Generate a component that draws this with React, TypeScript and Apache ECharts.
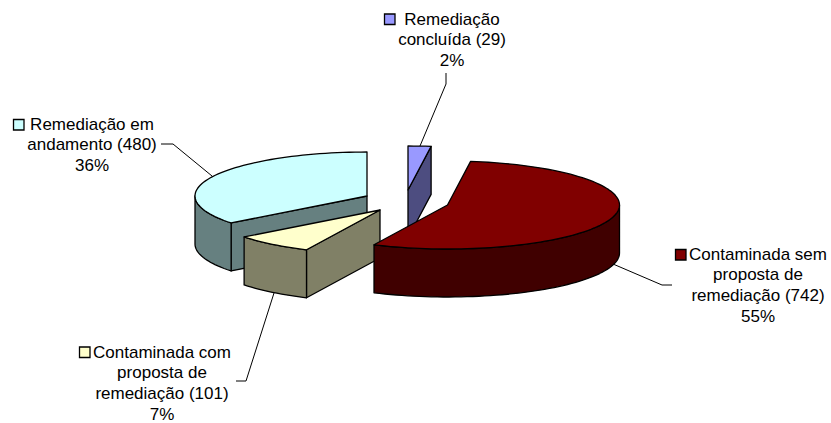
import React, { useEffect, useRef } from "react";
import * as echarts from "echarts";

// Slices in clockwise order, starting from twelve o'clock.
const categories = [
  "Remediação concluída",
  "Contaminada sem proposta de remediação",
  "Contaminada com proposta de remediação",
  "Remediação em andamento",
];
const values = [29, 742, 101, 480];
const labelLines = [
  ["Remediação", "concluída (29)", "2%"],
  ["Contaminada sem", "proposta de", "remediação (742)", "55%"],
  ["Contaminada com", "proposta de", "remediação (101)", "7%"],
  ["Remediação em", "andamento (480)", "36%"],
];
const topColors = ["#9999FF", "#800000", "#FFFFCC", "#CCFFFF"];
const sideColors = ["#4D4D80", "#400000", "#808066", "#668080"];

// Back-to-front painting order, so nearer slices cover farther ones.
const paintOrder = [0, 3, 2, 1];

// Pie projection.
const RX = 172;
const RY = 44;
const DEPTH = 48;
const sliceCentres = [
  [408, 190],
  [447.5, 205],
  [380, 210],
  [367, 196],
];
const labelCentres = [
  [452, 19],
  [758, 254],
  [162, 352],
  [92, 124],
];
const LINE_HEIGHT = 20.7;
const keyBoxes = [
  [384, 13.5],
  [675, 249],
  [79, 346.5],
  [13, 119],
];
const leaders = [
  [[446, 73], [446, 84], [420, 146]],
  [[672, 285], [662, 285], [613, 264]],
  [[236, 381], [246, 381], [274, 293]],
  [[161, 144], [173, 144], [212, 176]],
];

const total = values.reduce((a, b) => a + b, 0);
const sweeps = values.map((v) => (v / total) * 360);
const starts = sweeps.map((_, i) => sweeps.slice(0, i).reduce((a, b) => a + b, 0));

const point = (cx: number, cy: number, deg: number, drop = 0) => {
  const r = (deg * Math.PI) / 180;
  return [cx + RX * Math.sin(r), cy - RY * Math.cos(r) + drop];
};

const arc = (cx: number, cy: number, from: number, to: number, drop = 0) => {
  const steps = Math.max(2, Math.ceil(Math.abs(to - from) / 2));
  const pts: number[][] = [];
  for (let k = 0; k <= steps; k++) {
    pts.push(point(cx, cy, from + ((to - from) * k) / steps, drop));
  }
  return pts;
};

const face = (points: number[][], fill: string) => ({
  type: "polygon",
  shape: { points },
  style: { fill, stroke: "#000", lineWidth: 1.3, lineJoin: "round" },
});

const renderSlice = (_: unknown, api: any) => {
  const i = api.value(0);
  const sweep = (api.value(1) / total) * 360;
  const a0 = starts[i];
  const a1 = a0 + sweep;
  const [cx, cy] = sliceCentres[i];
  const side = sideColors[i];
  const children: any[] = [];

  const wall = (deg: number) => {
    const p = point(cx, cy, deg);
    const q = point(cx, cy, deg, DEPTH);
    return face([[cx, cy], p, q, [cx, cy + DEPTH]], side);
  };
  // Radial walls only show when they turn towards the viewer.
  if (Math.sin((a0 * Math.PI) / 180) < -1e-6) children.push(wall(a0));
  if (Math.sin((a1 * Math.PI) / 180) > 1e-6) children.push(wall(a1));

  // The rim is visible on the near half of the ellipse only.
  const rimFrom = Math.max(a0, 90);
  const rimTo = Math.min(a1, 270);
  if (rimTo > rimFrom) {
    children.push(
      face(
        [...arc(cx, cy, rimFrom, rimTo), ...arc(cx, cy, rimTo, rimFrom, DEPTH)],
        side
      )
    );
  }

  children.push(face([[cx, cy], ...arc(cx, cy, a0, a1)], topColors[i]));
  return { type: "group", children };
};

const labelGraphics = categories.flatMap((_, i) => {
  const [cx, cy] = labelCentres[i];
  const [kx, ky] = keyBoxes[i];
  return [
    {
      type: "polyline",
      shape: { points: leaders[i] },
      style: { stroke: "#000", lineWidth: 1, fill: "none" },
      silent: true,
    },
    {
      type: "rect",
      shape: { x: kx + 0.5, y: ky + 0.5, width: 10.5, height: 10.5 },
      style: { fill: topColors[i], stroke: "#000", lineWidth: 1.3 },
      silent: true,
    },
    ...labelLines[i].map((text, n) => ({
      type: "text",
      x: cx,
      y: cy + n * LINE_HEIGHT,
      silent: true,
      style: {
        text,
        fill: "#000",
        font: '17px "Liberation Sans", Arial, sans-serif',
        textAlign: "center",
        textVerticalAlign: "middle",
      },
    })),
  ];
});

export default function App() {
  const ref = useRef<HTMLDivElement>(null);

  useEffect(() => {
    const chart = echarts.init(ref.current!, undefined, { renderer: "svg" });
    chart.setOption({
      animation: false,
      backgroundColor: "#fff",
      series: [
        {
          type: "custom",
          coordinateSystem: "none",
          renderItem: renderSlice,
          silent: true,
          data: paintOrder.map((i) => ({ name: categories[i], value: [i, values[i]] })),
        },
      ],
      graphic: { elements: labelGraphics },
    });
    return () => chart.dispose();
  }, []);

  return (
    <div
      ref={ref}
      style={{ position: "fixed", left: 0, top: 0, width: 831, height: 423 }}
    />
  );
}
